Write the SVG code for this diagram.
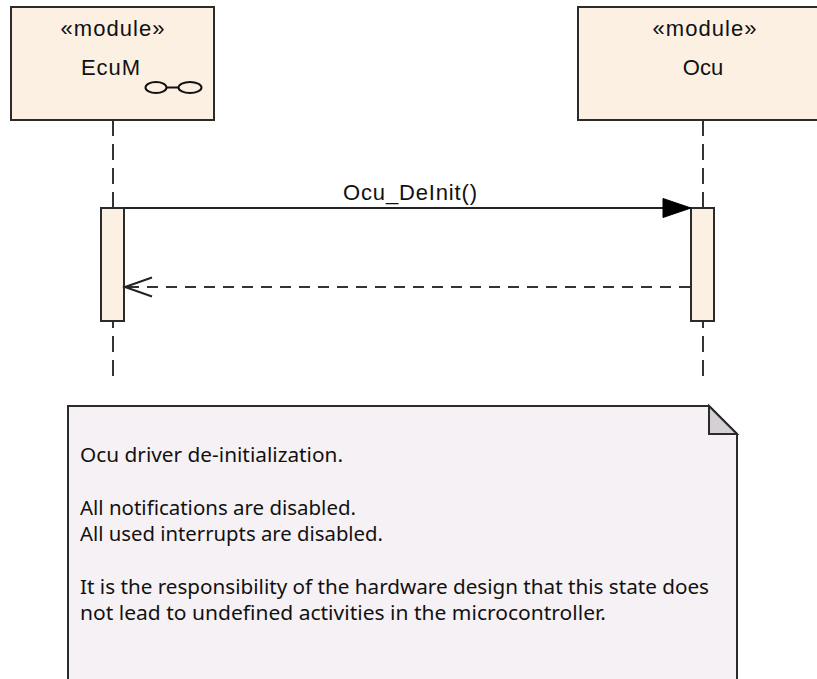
<svg xmlns="http://www.w3.org/2000/svg" width="817" height="679" viewBox="0 0 817 679">
<defs>
<style>
.box{fill:#FBF0E2;stroke:#2b2b2b;stroke-width:2}
.act{fill:#FBF0E2;stroke:#2b2b2b;stroke-width:2}
.life{stroke:#333;stroke-width:2;stroke-dasharray:16 8;fill:none}
.lbl{font-family:"Liberation Sans",Arial,sans-serif;font-size:22px;fill:#111;text-anchor:middle}
.note{fill:#F6F1F5;stroke:#2b2b2b;stroke-width:2}
.fold{fill:#D4D0D6;stroke:#2b2b2b;stroke-width:2;stroke-linejoin:miter}
.ntxt{font-family:"Noto Sans","Open Sans",sans-serif;font-size:20px;fill:#111}
.msg{stroke:#222;stroke-width:2;fill:none}
.ret{stroke:#333;stroke-width:2;stroke-dasharray:11 8;fill:none}
</style>
</defs>
<rect width="817" height="679" fill="#ffffff"/>
<g id="lifelines">
<line class="life" x1="113" y1="120" x2="113" y2="378"/>
<line class="life" x1="703" y1="120" x2="703" y2="378"/>
</g>
<g id="EcuM">
<rect class="box" x="11" y="7" width="203" height="113"/>
<text class="lbl" x="112.5" y="36" textLength="104">«module»</text>
<text class="lbl" x="110.5" y="75" textLength="59">EcuM</text>
<g fill="none" stroke="#111" stroke-width="2">
<ellipse cx="156" cy="87.5" rx="10.5" ry="5.5"/>
<ellipse cx="190" cy="87.5" rx="11.5" ry="5.5"/>
<line x1="166.5" y1="87.5" x2="178.5" y2="87.5"/>
</g>
</g>
<g id="Ocu">
<rect class="box" x="578" y="7" width="250" height="113"/>
<text class="lbl" x="704.5" y="36" textLength="104">«module»</text>
<text class="lbl" x="703" y="75">Ocu</text>
</g>
<g id="activations">
<rect class="act" x="101" y="208" width="23" height="113"/>
<rect class="act" x="691" y="208" width="23" height="113"/>
</g>
<g id="connectors">
<line class="msg" x1="124" y1="208" x2="665" y2="208"/>
<polygon points="691,208 663,198.5 663,217.5" fill="#000" stroke="#000" stroke-width="1"/>
<text class="lbl" x="410" y="200" textLength="134">Ocu_DeInit()</text>
<line class="ret" x1="690" y1="287" x2="126" y2="287"/>
<polyline points="152,277.5 125,287 152,296.5" fill="none" stroke="#222" stroke-width="2"/>
</g>
<g id="note">
<path class="note" d="M68,406 L709,406 L737,434 L737,690 L68,690 Z"/>
<path class="fold" d="M709,406 L709,434 L737,434 Z"/>
<text class="ntxt" x="80" y="462" textLength="263" lengthAdjust="spacingAndGlyphs">Ocu driver de-initialization.</text>
<text class="ntxt" x="80" y="515" textLength="276" lengthAdjust="spacingAndGlyphs">All notifications are disabled.</text>
<text class="ntxt" x="80" y="541" textLength="303" lengthAdjust="spacingAndGlyphs">All used interrupts are disabled.</text>
<text class="ntxt" x="80" y="594" textLength="629" lengthAdjust="spacingAndGlyphs">It is the responsibility of the hardware design that this state does</text>
<text class="ntxt" x="80" y="620" textLength="526" lengthAdjust="spacingAndGlyphs">not lead to undefined activities in the microcontroller.</text>
</g>
</svg>
